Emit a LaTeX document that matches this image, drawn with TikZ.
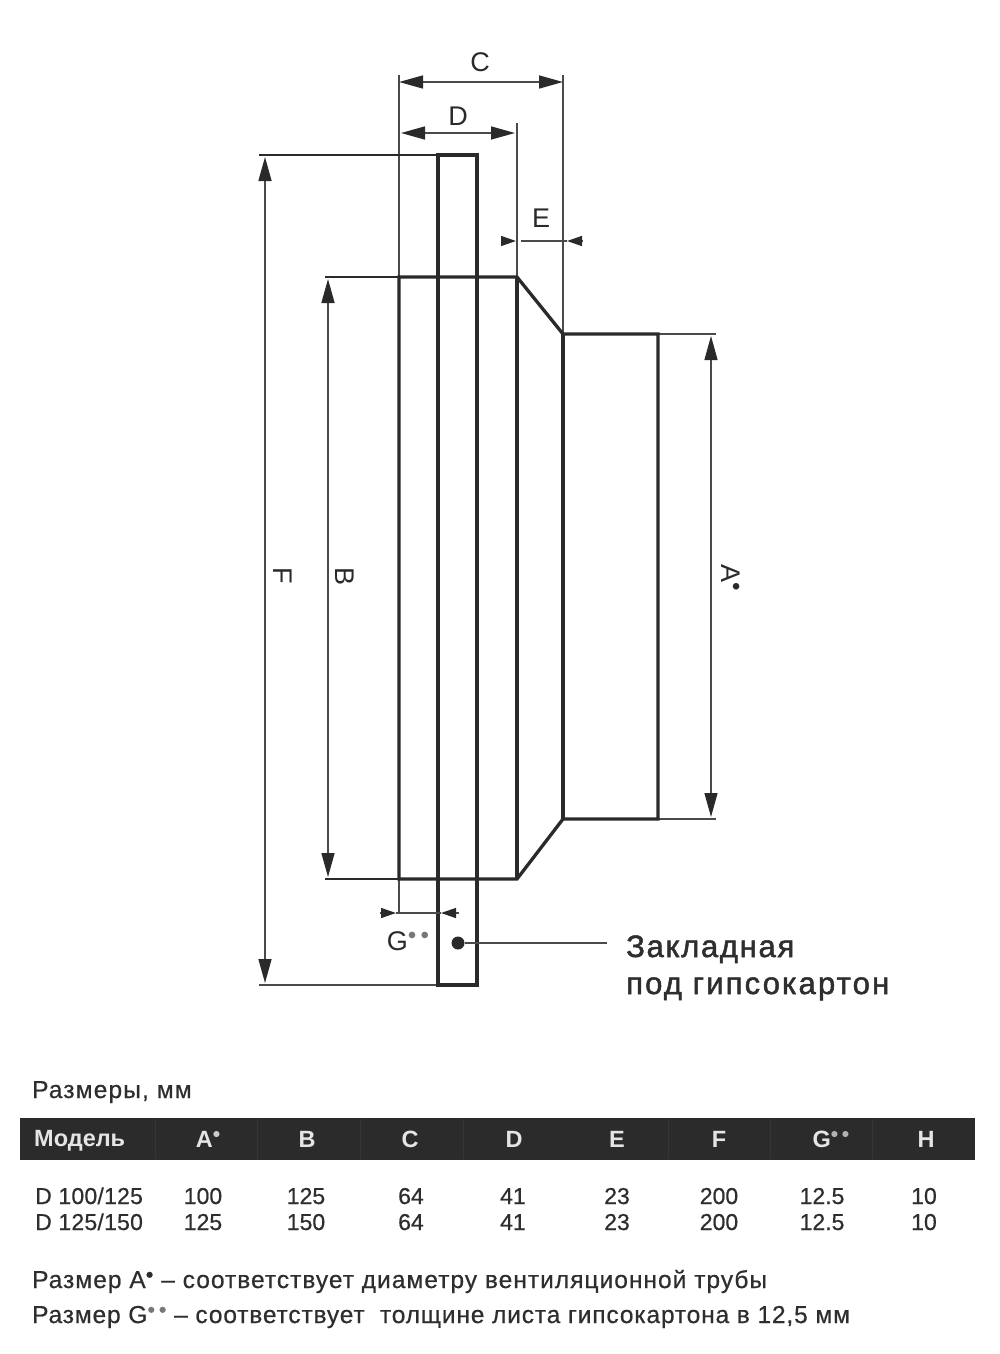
\documentclass[tikz,border=0pt]{standalone}
\usepackage{graphicx}
\usepackage{fontspec}
\setmainfont{Liberation Sans}
\usetikzlibrary{arrows.meta}
\definecolor{ink}{HTML}{2A2A2A}
\definecolor{dimc}{HTML}{4A4A4A}
\definecolor{txt}{HTML}{2E2E2E}
\definecolor{bar}{HTML}{2B2B2B}
\definecolor{barsep}{HTML}{363636}
\definecolor{dotc}{HTML}{777777}
\newcommand{\dotup}{\raisebox{.24em}{\scalebox{.9}{•}}}
\newcommand{\dotsup}{\raisebox{.24em}{\scalebox{.9}{\textcolor{dotc}{•\,•}}}}
\newcommand{\dotuph}{\raisebox{.24em}{\scalebox{.9}{\textcolor{white!80!black}{•}}}}
\newcommand{\dotsuph}{\raisebox{.24em}{\scalebox{.9}{\textcolor{white!70!black}{•\,•}}}}
\tikzset{
  thickl/.style={draw=ink,line width=3.3pt,line join=miter},
  extl/.style={draw=dimc,line width=1.4pt},
  diml/.style={draw=dimc,line width=1.5pt,{Triangle[length=24pt,width=13pt,color=ink]}-{Triangle[length=24pt,width=13pt,color=ink]}},
  small/.style={draw=dimc,line width=1.4pt},
  stub/.style={draw=dimc,line width=1.4pt,-{Triangle[length=15pt,width=10pt,color=ink]}},
  lab/.style={font=\fontsize{27}{30}\selectfont,text=ink,inner sep=0pt},
  noteA/.style={font=\fontsize{24.5}{28}\selectfont\addfontfeature{LetterSpace=4.2,FakeBold=0.6},text=txt,inner sep=0pt,anchor=base west},
  noteB/.style={font=\fontsize{24.5}{28}\selectfont\addfontfeature{LetterSpace=3.5,FakeBold=0.6},text=txt,inner sep=0pt,anchor=base west},
  noteT/.style={font=\fontsize{24.5}{28}\selectfont\addfontfeature{LetterSpace=4.7,FakeBold=0.6},text=txt,inner sep=0pt,anchor=base west},
  callA/.style={font=\fontsize{31}{34}\selectfont\addfontfeature{LetterSpace=5.5,FakeBold=1.6},text=txt,inner sep=0pt,anchor=base west},
  callB/.style={font=\fontsize{31}{34}\selectfont\addfontfeature{LetterSpace=7,FakeBold=1.6},text=txt,inner sep=0pt,anchor=base west},
  cell/.style={font=\fontsize{23}{26}\selectfont\addfontfeature{FakeBold=0.6},text=txt,inner sep=0pt,anchor=base},
  cellw/.style={font=\fontsize{23}{26}\selectfont\addfontfeature{LetterSpace=1,FakeBold=0.6},text=txt,inner sep=0pt,anchor=base west},
  head/.style={font=\fontsize{23.5}{26}\selectfont\bfseries,text=white!90!black,inner sep=0pt,anchor=base},
}
\begin{document}
\begin{tikzpicture}[x=1pt,y=-1pt]
\useasboundingbox (0,0) rectangle (1000,1354);
% body points
\coordinate (p1) at (399,277); \coordinate (p2) at (517,277); \coordinate (p3) at (563,334);
\coordinate (p4) at (658,334); \coordinate (p5) at (658,819); \coordinate (p6) at (563,819);
\coordinate (p7) at (517,879); \coordinate (p8) at (399,879);
\coordinate (t1) at (438,155); \coordinate (t2) at (477,155); \coordinate (t3) at (477,985); \coordinate (t4) at (438,985);
% extension lines
\coordinate (cl) at (399,75); \coordinate (cr) at (563,75); \coordinate (dr) at (517,123);
\draw[extl] (cl) -- (p1); \draw[extl] (cr) -- (p3); \draw[extl] (dr) -- (p2);
\coordinate (fa) at (259,155); \coordinate (fb) at (259,985);
\coordinate (ba) at (325,277); \coordinate (bb) at (325,879);
\coordinate (aa) at (716,334); \coordinate (ab) at (716,819);
\draw[draw=ink,line width=1.6pt] (fa) -- (t1);
\draw[draw=dimc,line width=1.6pt] (fb) -- (t4);
\draw[draw=ink,line width=1.6pt] (ba) -- (p1);
\draw[draw=ink,line width=1.6pt] (bb) -- (p8);
\draw[extl] (aa) -- (p4); \draw[extl] (ab) -- (p5);
\coordinate (ge) at (399,913);
\draw[extl] (p8) -- (ge);
% outline
\draw[thickl] (p1) -- (p2) -- (p3) -- (p4) -- (p5) -- (p6) -- (p7) -- (p8) -- cycle;
\draw[thickl] (p2) -- (p7); \draw[thickl] (p3) -- (p6);
\draw[thickl] (t4) -- (t1) -- (t2) -- (t3) -- cycle;
% dimensions
\coordinate (c1) at (399,82); \coordinate (c2) at (563,82);
\draw[diml] (c1) -- (c2);
\coordinate (d1) at (401,133); \coordinate (d2) at (515,133);
\draw[diml] (d1) -- (d2);
\coordinate (f1) at (265,157); \coordinate (f2) at (265,983);
\draw[diml] (f1) -- (f2);
\coordinate (b1) at (328,279); \coordinate (b2) at (328,877);
\draw[diml] (b1) -- (b2);
\coordinate (a1) at (711,336); \coordinate (a2) at (711,817);
\draw[diml,line width=1.3pt] (a1) -- (a2);
% E
\coordinate (e0) at (501,241); \coordinate (e1) at (516,241); \coordinate (e2) at (521,241);
\coordinate (e3) at (583,241); \coordinate (e4) at (567,241);
\draw[stub] (e0) -- (e1); \draw[stub] (e3) -- (e4); \draw[small] (e2) -- (e4);
% G
\coordinate (g0) at (380,913); \coordinate (g1) at (396,913); \coordinate (g2) at (459,913);
\coordinate (g3) at (441,913);
\draw[stub] (g0) -- (g1); \draw[stub] (g2) -- (g3); \draw[small] (g1) -- (g3);
% labels
\node[lab] (lc) at (480,62) {C};
\node[lab] (ld) at (458,116) {D};
\node[lab] (le) at (541,218) {E};
\node[lab,rotate=-90] (lf) at (283,576) {F};
\node[lab,rotate=-90] (lb) at (345,576) {B};
\node[lab,rotate=-90] (la) at (731,578) {A\dotup};
\node[lab] (lg) at (408,941) {G\dotsup};
% callout
\node[circle,fill=ink,minimum size=13pt,inner sep=0pt] (pin) at (458,943) {};
\coordinate (pe) at (607,943);
\draw[extl] (pin) -- (pe);
\node[callA] (k1) at (626,957) {Закладная};
\node[callB] (k2) at (626,994) {под гипсокартон};
% table
\node[noteT] (title) at (32,1098) {Размеры, мм};
\fill[bar] (20,1118) rectangle (975,1160);
\foreach \x in {155,257,360,463,668,770,872} \draw[barsep,line width=.8pt] (\x,1119) -- (\x,1159);
\node[head,anchor=base west] (h0) at (34,1146) {Модель};
\node[head] (h1) at (208,1147) {A\dotuph};
\node[head] (h2) at (307,1147) {B};
\node[head] (h3) at (410,1147) {C};
\node[head] (h4) at (514,1147) {D};
\node[head] (h5) at (617,1147) {E};
\node[head] (h6) at (719,1147) {F};
\node[head] (h7) at (831,1147) {G\dotsuph};
\node[head] (h8) at (926,1147) {H};
\node[cellw] (r10) at (35,1204) {D 100/125};
\node[cell] (r11) at (203,1204) {100};
\node[cell] (r12) at (306,1204) {125};
\node[cell] (r13) at (411,1204) {64};
\node[cell] (r14) at (513,1204) {41};
\node[cell] (r15) at (617,1204) {23};
\node[cell] (r16) at (719,1204) {200};
\node[cell] (r17) at (822,1204) {12.5};
\node[cell] (r18) at (924,1204) {10};
\node[cellw] (r20) at (35,1230) {D 125/150};
\node[cell] (r21) at (203,1230) {125};
\node[cell] (r22) at (306,1230) {150};
\node[cell] (r23) at (411,1230) {64};
\node[cell] (r24) at (513,1230) {41};
\node[cell] (r25) at (617,1230) {23};
\node[cell] (r26) at (719,1230) {200};
\node[cell] (r27) at (822,1230) {12.5};
\node[cell] (r28) at (924,1230) {10};
\node[noteA] (n1) at (32,1288) {Размер A\dotup{} – соответствует диаметру вентиляционной трубы};
\node[noteB] (n2) at (32,1323) {Размер G\dotsup{} – соответствует\ \ толщине листа гипсокартона в 12,5 мм};
\end{tikzpicture}
\end{document}
